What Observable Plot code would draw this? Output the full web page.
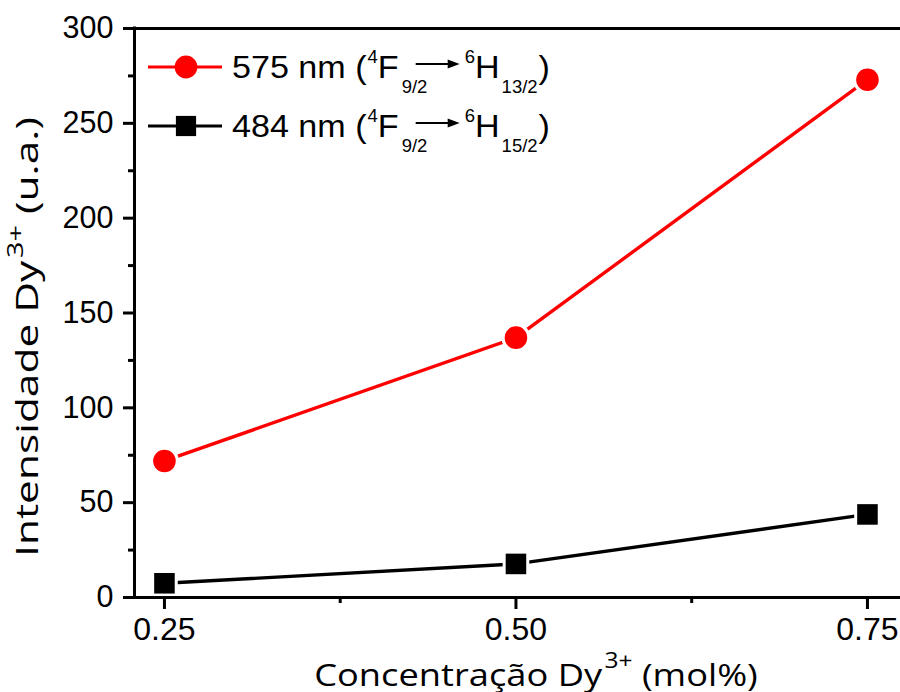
<!DOCTYPE html>
<html>
<head>
<meta charset="utf-8">
<script src="https://cdn.jsdelivr.net/npm/d3@7"></script>
<script src="https://cdn.jsdelivr.net/npm/@observablehq/plot@0.6"></script>
<style>
  html, body { margin: 0; padding: 0; background: #fff; }
  #chart { width: 900px; height: 692px; }
</style>
</head>
<body>
<div id="chart"></div>
<script>
// ---- data ----
const concentration = [0.25, 0.50, 0.75];
const intensity575 = [72, 137, 273];
const intensity484 = [7.5, 17.7, 43.8];
const seriesKeys = ["575", "484"];
const yMajorTicks = [0, 50, 100, 150, 200, 250, 300];
const yMinorTicks = [25, 75, 125, 175, 225, 275];
const xMajorTicks = [0.25, 0.50, 0.75];
const xMinorTicks = [0.375, 0.625];
const legendLabels = [
  {nm: "575 nm (", upper: "4", F: "F", sub1: "9/2", up2: "6", H: "H", sub2: "13/2"},
  {nm: "484 nm (", upper: "4", F: "F", sub1: "9/2", up2: "6", H: "H", sub2: "15/2"}
];
const xTitle = ["Concentração Dy", "3+", " (mol%)"];
const yTitle = ["Intensidade Dy", "3+", " (u.a.)"];

const colors = {"575": "#ff0000", "484": "#000000"};

const rows = [];
concentration.forEach((c, i) => {
  rows.push({c, v: intensity575[i], s: "575"});
  rows.push({c, v: intensity484[i], s: "484"});
});
const red = rows.filter(d => d.s === "575");
const blk = rows.filter(d => d.s === "484");

const xDomain = [0.2287, 0.7735];
const tickFont = "Liberation Sans, Arial, sans-serif";

const chart = Plot.plot({
  width: 900,
  height: 692,
  marginLeft: 134,
  marginRight: 0,
  marginTop: 28,
  marginBottom: 95,
  style: {background: "#fff", color: "#000", fontFamily: tickFont, fontSize: "30px", overflow: "visible"},
  x: {domain: xDomain, label: null},
  y: {domain: [0, 300], label: null},
  marks: [
    Plot.line(red, {x: "c", y: "v", stroke: colors["575"], strokeWidth: 3.4}),
    Plot.line(blk, {x: "c", y: "v", stroke: colors["484"], strokeWidth: 3.4}),
    // white halos create the gaps between line and markers
    Plot.dot(red, {x: "c", y: "v", r: 14.5, fill: "#fff", stroke: null, symbol: "circle"}),
    Plot.dot(blk, {x: "c", y: "v", r: 15, fill: "#fff", stroke: null, symbol: "square"}),
    Plot.dot(red, {x: "c", y: "v", r: 11.3, fill: colors["575"], stroke: null, symbol: "circle"}),
    Plot.dot(blk, {x: "c", y: "v", r: 11.6, fill: colors["484"], stroke: null, symbol: "square"}),
    // frame (left, bottom, top)
    Plot.ruleY([0], {stroke: "#000", strokeWidth: 3, strokeLinecap: "square"}),
    Plot.ruleY([300], {stroke: "#000", strokeWidth: 3, strokeLinecap: "square"}),
    Plot.ruleX([xDomain[0]], {stroke: "#000", strokeWidth: 3, strokeLinecap: "square"}),
    // axes
    Plot.axisY({ticks: yMajorTicks, tickSize: 11, tickPadding: 10, strokeWidth: 3, fontSize: 30.5, fontFamily: tickFont, label: null}),
    Plot.axisY({ticks: yMinorTicks, tickSize: 6, strokeWidth: 3, tickFormat: () => "", label: null}),
    Plot.axisX({ticks: xMajorTicks, tickSize: 12, tickPadding: 8, strokeWidth: 3, fontSize: 32, fontFamily: tickFont, tickFormat: d3.format(".2f"), label: null}),
    Plot.axisX({ticks: xMinorTicks, tickSize: 6, strokeWidth: 3, tickFormat: () => "", label: null})
  ]
});
document.getElementById("chart").appendChild(chart);

const svg = d3.select(chart);

// ---- axis titles with superscripts (stretched along the text like the reference) ----
const titleFont = "Open Sans, sans-serif";
function title(parts, transform, supShift) {
  const t = svg.append("text")
    .attr("transform", transform)
    .attr("text-anchor", "middle")
    .attr("font-family", titleFont)
    .attr("font-size", 31)
    .attr("fill", "#000");
  t.append("tspan").text(parts[0]);
  t.append("tspan").attr("font-size", 21).attr("dy", -supShift).attr("dx", 2).text(parts[1]);
  t.append("tspan").attr("dy", supShift).text(parts[2]);
}
title(xTitle, "translate(536,686) scale(1.17,1)", 18);
title(yTitle, "translate(38,337) rotate(-90) scale(1.37,1)", 15);

// ---- legend ----
const lg = svg.append("g").attr("font-family", tickFont).attr("fill", "#000").attr("text-anchor", "start");
function piece(x, y, txt, size) {
  const s = size >= 30 ? 1.1 : 1;
  const t = lg.append("text").attr("transform", `translate(${x},${y}) scale(${s},1)`)
    .attr("font-size", size).attr("text-anchor", "start").text(txt);
  return x + t.node().getComputedTextLength() * s;
}
function legendRow(y0, key, L) {
  lg.append("line").attr("x1", 148).attr("x2", 222).attr("y1", y0).attr("y2", y0)
    .attr("stroke", colors[key]).attr("stroke-width", 3);
  const sym = d3.symbol(key === "575" ? d3.symbolCircle : d3.symbolSquare, Math.PI * 11.4 * 11.4);
  lg.append("path").attr("d", sym()).attr("transform", `translate(186,${y0})`).attr("fill", colors[key]);
  let x = 232;
  x = piece(x, y0 + 11, L.nm, 31);
  x = piece(x + 1, y0 - 4, L.upper, 18.5);
  x = piece(x, y0 + 11, L.F, 31);
  piece(x + 3, y0 + 26, L.sub1, 18.5);
  const a1 = x + 17, a2 = x + 61, ay = y0 - 3;
  lg.append("line").attr("x1", a1).attr("x2", a2 - 8).attr("y1", ay).attr("y2", ay)
    .attr("stroke", "#000").attr("stroke-width", 2);
  lg.append("path").attr("d", `M${a2},${ay} L${a2 - 12},${ay - 4.5} L${a2 - 12},${ay + 4.5} Z`).attr("fill", "#000");
  x = piece(a2 + 5, y0 - 4, L.up2, 18.5);
  x = piece(x, y0 + 11, L.H, 31);
  x = piece(x + 2, y0 + 26, L.sub2, 18.5);
  piece(x + 1, y0 + 11, ")", 31);
}
legendRow(67, "575", legendLabels[0]);
legendRow(126, "484", legendLabels[1]);
</script>
</body>
</html>
